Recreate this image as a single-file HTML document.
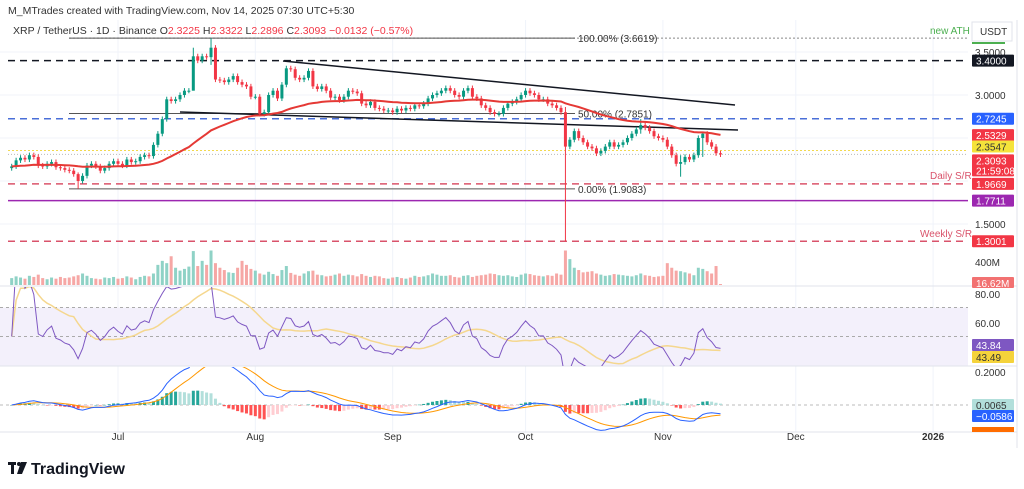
<!DOCTYPE html>
<html><head><meta charset="utf-8"><style>
html,body{margin:0;padding:0;background:#fff;}
svg{display:block;font-family:"Liberation Sans",sans-serif;}
</style></head><body>
<svg id="c" width="1024" height="489" viewBox="0 0 1024 489" xmlns="http://www.w3.org/2000/svg">
<defs>
<clipPath id="priceClip"><rect x="0" y="20" width="968" height="232"/></clipPath>
<clipPath id="rsiClip"><rect x="0" y="287" width="968" height="79"/></clipPath>
<clipPath id="macdClip"><rect x="0" y="367" width="968" height="65"/></clipPath>
</defs>
<rect x="0" y="0" width="1024" height="489" fill="#fff"/>
<text x="8" y="14" font-size="10.5" fill="#333">M_MTrades created with TradingView.com, Nov 14, 2025 07:30 UTC+5:30</text>
<g id="grid"></g>
<g id="levels"></g>
<g id="volume"></g>
<g id="candles" clip-path="url(#priceClip)"></g>
<g id="rsi"></g>
<g id="macd"></g>
<g id="axis"></g>
<text x="13" y="34" font-size="10.5" fill="#333">XRP / TetherUS · 1D · Binance <tspan fill="#333">O</tspan><tspan fill="#f23645">2.3225</tspan> <tspan fill="#333">H</tspan><tspan fill="#f23645">2.3322</tspan> <tspan fill="#333">L</tspan><tspan fill="#f23645">2.2896</tspan> <tspan fill="#333">C</tspan><tspan fill="#f23645">2.3093</tspan> <tspan fill="#f23645">−0.0132 (−0.57%)</tspan></text>
<g>
<rect x="8" y="462" width="8" height="3" fill="#131722"/><rect x="11" y="462" width="3" height="12" fill="#131722"/>
<circle cx="19" cy="464" r="2" fill="#131722"/><polygon points="21,462 27,462 22,474 17,474" fill="#131722"/>
<text x="31" y="474" font-size="16" font-weight="bold" fill="#131722">TradingView</text>
</g>
</svg>
<script>
// ---- data ----
const startDay = -24; // Jun 7 relative to Jul 1
const closes = [
2.17,2.24,2.27,2.25,2.3,2.28,2.18,2.17,2.2,2.22,2.16,2.15,2.13,2.12,2.08,2.0,2.06,2.18,2.2,2.17,2.12,2.15,2.2,2.23,
2.2,2.18,2.25,2.22,2.23,2.28,2.3,2.29,2.42,2.55,2.72,2.95,2.93,2.95,3.0,3.05,3.05,3.45,3.4,3.45,3.44,3.55,3.18,3.17,3.15,3.18,3.22,3.15,3.12,3.1,2.98,
2.98,2.78,2.8,3.0,3.05,2.96,3.12,3.31,3.3,3.2,3.18,3.2,3.28,3.1,3.07,3.1,3.05,2.97,2.98,2.94,2.98,3.05,3.04,3.02,2.9,2.88,2.92,2.85,2.84,2.82,2.82,
2.8,2.84,2.82,2.85,2.84,2.88,2.87,2.9,2.96,3.0,3.02,3.05,3.08,3.05,3.0,2.98,3.05,3.08,2.98,2.96,2.88,2.85,2.8,2.78,2.78,2.85,2.9,2.92,2.95,3.0,
3.05,3.02,3.0,2.95,2.95,2.9,2.88,2.85,2.8,2.4,2.48,2.58,2.5,2.45,2.4,2.38,2.32,2.35,2.4,2.45,2.4,2.42,2.45,2.5,2.55,2.6,2.65,2.62,2.58,2.52,2.5,
2.48,2.4,2.3,2.2,2.22,2.28,2.25,2.3,2.5,2.55,2.45,2.4,2.3225,2.3093];
const volumes = [
120,150,130,110,160,140,180,120,100,130,110,140,120,130,150,170,200,160,120,110,100,130,120,140,
110,120,150,130,100,140,160,150,200,350,420,380,500,300,250,280,320,590,330,420,350,600,380,300,260,220,210,300,420,350,280,
250,200,180,230,190,160,260,330,210,180,160,200,240,250,180,170,150,160,180,200,160,180,170,150,190,160,140,160,150,120,110,
130,140,120,110,130,160,140,150,170,200,180,160,160,170,140,130,160,170,140,160,170,180,200,190,170,160,170,150,140,180,
200,190,170,160,150,170,160,200,180,600,450,300,260,220,230,240,200,180,160,170,190,180,170,160,150,170,200,170,160,140,150,
160,380,300,250,240,220,200,170,300,280,240,200,330,17];
const wickIdx = [15, 41, 45, 125, 142, 151, 156];
const wickHigh = [2.1, 3.55, 3.66, 2.86, 2.72, 2.3, 2.56];
const wickLow = [1.91, 3.2, 3.35, 1.30, 2.55, 2.05, 2.28];
const monthLabels = ["Jul","Aug","Sep","Oct","Nov","Dec","2026"];
const monthDays = [0,31,62,92,123,153,184];
const priceTicks = [3.5,3.0,1.5];
const rsiTicks = [80,60];

// ---- scales ----
const X = d => 118 + d*4.43;
const PY = p => 95 - (p-3)*86;
const VY = v => 285 - v*23/400;
const RY = r => 322 - (r-60)*1.45;
const MY = m => 405 - m*165;
const NS="http://www.w3.org/2000/svg";
const svg=document.getElementById('c');
function mk(tag,attrs,parent){const e=document.createElementNS(NS,tag);for(const k in attrs)e.setAttribute(k,attrs[k]);(parent||svg).appendChild(e);return e;}
const grid=document.getElementById('grid'),levels=document.getElementById('levels'),vol=document.getElementById('volume'),
cg=document.getElementById('candles'),rg=document.getElementById('rsi'),mg=document.getElementById('macd'),ax=document.getElementById('axis');
const UP="#089981",DN="#f23645";
const opens=closes.map((c,i)=>i?closes[i-1]:c-0.02);
const highs=closes.map((c,i)=>Math.max(c,opens[i])+0.03);
const lows=closes.map((c,i)=>Math.min(c,opens[i])-0.03);
wickIdx.forEach((k,j)=>{highs[k]=wickHigh[j];lows[k]=wickLow[j];});

// grid
monthDays.forEach(d=>{const g=mk('line',{x1:X(d),x2:X(d),y1:20,y2:432,stroke:'#f0f3fa','stroke-width':1},grid);
});
[3.5,3.0,2.5,2.0,1.5].forEach(p=>{const g=mk('line',{x1:0,x2:968,y1:PY(p),y2:PY(p),stroke:'#f0f3fa'},grid);
});
[286,366,432].forEach(y=>{const l=mk('line',{x1:0,x2:1017,y1:y,y2:y,stroke:'#e0e3eb'},grid);});
const ab=mk('line',{x1:1017,x2:1017,y1:20,y2:448,stroke:'#e0e3eb'},grid);

// levels
function hl(p,color,dash,w,name,x1){const l=mk('line',{x1:x1||8,x2:968,y1:PY(p),y2:PY(p),stroke:color,'stroke-width':w,'stroke-dasharray':dash},levels);
}
hl(3.6619,'#888','2,2',1,'fib-100-line',69);
hl(3.40,'#131722','7,5',1.5,'resistance-3-40');
hl(2.7245,'#4a6fd8','7,5',1.5,'level-2-7245');
hl(2.3547,'#f2d94e','2,2',1,'level-2-3547');
hl(2.3093,'#bbb','1,2',1,'last-price-line');
hl(1.9669,'#d9536b','7,5',1.5,'daily-sr-line');
hl(1.7711,'#9c27b0','',1.5,'level-1-7711');
hl(1.3001,'#d9536b','7,5',1.5,'weekly-sr-line');
[[3.6619,575],[2.7851,575],[1.9083,575]].forEach(([p,x2],i)=>{const l=mk('line',{x1:69,x2:x2,y1:PY(p),y2:PY(p),stroke:'#555','stroke-width':1},levels);
});
[[578,'100.00% (3.6619)',3.6619],[578,'50.00% (2.7851)',2.7851],[578,'0.00% (1.9083)',1.9083]].forEach(([x,t,p])=>{
const e=mk('text',{x:x,y:PY(p)+4,'font-size':10,fill:'#333'},levels);e.textContent=t;});
const t1=mk('line',{x1:283,y1:61,x2:735,y2:105,stroke:'#131722','stroke-width':1.5},levels);
const t2=mk('line',{x1:180,y1:112,x2:738,y2:130,stroke:'#131722','stroke-width':1.5},levels);
[['new ATH',930,34,'#4caf50'],['Daily S/R',930,179,'#d9536b'],['Weekly S/R',920,237,'#d9536b']].forEach(([t,x,y,c])=>{
const e=mk('text',{x:x,y:y,'font-size':10,fill:c},levels);e.textContent=t;});

// volume
closes.forEach((c,i)=>{const x=X(i+startDay);const up=c>=opens[i];
const r=mk('rect',{x:x-1.5,y:VY(volumes[i]),width:3,height:285-VY(volumes[i]),fill:up?'#8fd2c6':'#f6a7a5'},vol);
});

// candles
closes.forEach((c,i)=>{const x=X(i+startDay),o=opens[i],up=c>=o,col=up?UP:DN;
const w=mk('line',{x1:x,x2:x,y1:PY(highs[i]),y2:PY(lows[i]),stroke:col,'stroke-width':1},cg);

const top=PY(Math.max(o,c)),h=Math.max(1,Math.abs(PY(o)-PY(c)));
const b=mk('rect',{x:x-1.5,y:top,width:3,height:h,fill:col},cg);
});
let ema=[],k=2/51;closes.forEach((c,i)=>ema.push(i?c*k+ema[i-1]*(1-k):c));
const ep=mk('path',{d:ema.map((v,i)=>(i?'L':'M')+X(i+startDay).toFixed(1)+','+PY(v).toFixed(1)).join(''),fill:'none',stroke:'#e53935','stroke-width':2},cg);


// RSI
const rb=mk('rect',{x:0,y:RY(70),width:968,height:RY(30)-RY(70),fill:'#f3f0fb'},rg);
[70,50].forEach(v=>{const l=mk('line',{x1:0,x2:968,y1:RY(v),y2:RY(v),stroke:'#aaa','stroke-dasharray':'3,3'},rg);});
let rsi=[],ag=0,al=0;
closes.forEach((c,i)=>{if(!i){rsi.push(50);return;}const ch=c-closes[i-1];const g=Math.max(ch,0),l=Math.max(-ch,0);
if(i<=14){ag+=g/14;al+=l/14;}else{ag=(ag*13+g)/14;al=(al*13+l)/14;}rsi.push(al===0?100:100-100/(1+ag/al));});
const rma=rsi.map((v,i)=>{const s=rsi.slice(Math.max(0,i-13),i+1);return s.reduce((a,b)=>a+b,0)/s.length;});
const rgc=mk('g',{'clip-path':'url(#rsiClip)'},rg);
const rp1=mk('path',{d:rma.map((v,i)=>(i?'L':'M')+X(i+startDay).toFixed(1)+','+RY(v).toFixed(1)).join(''),fill:'none',stroke:'#f5d78e','stroke-width':1.5},rgc);

const rp2=mk('path',{d:rsi.map((v,i)=>(i?'L':'M')+X(i+startDay).toFixed(1)+','+RY(v).toFixed(1)).join(''),fill:'none',stroke:'#7e57c2','stroke-width':1},rgc);


// MACD
function emaS(a,n){const q=2/(n+1);const r=[];a.forEach((v,i)=>r.push(i?v*q+r[i-1]*(1-q):v));return r;}
const e12=emaS(closes,12),e26=emaS(closes,26);const macd=e12.map((v,i)=>v-e26[i]);const sig=emaS(macd,9);
const mgc=mk('g',{'clip-path':'url(#macdClip)'},mg);
const zl=mk('line',{x1:0,x2:968,y1:MY(0),y2:MY(0),stroke:'#bbb','stroke-dasharray':'3,3'},mgc);
macd.forEach((m,i)=>{const h=m-sig[i],ph=i?macd[i-1]-sig[i-1]:0;const x=X(i+startDay);
const col=h>=0?(h>=ph?'#26a69a':'#b2dfdb'):(h<=ph?'#ff5252':'#ffcdd2');
const r=mk('rect',{x:x-1.5,y:Math.min(MY(h),MY(0)),width:3,height:Math.max(0.5,Math.abs(MY(h)-MY(0))),fill:col},mgc);
});
const mp1=mk('path',{d:sig.map((v,i)=>(i?'L':'M')+X(i+startDay).toFixed(1)+','+MY(v).toFixed(1)).join(''),fill:'none',stroke:'#ff9800','stroke-width':1},mgc);

const mp2=mk('path',{d:macd.map((v,i)=>(i?'L':'M')+X(i+startDay).toFixed(1)+','+MY(v).toFixed(1)).join(''),fill:'none',stroke:'#2962ff','stroke-width':1},mgc);


// axes text
monthLabels.forEach((t,i)=>{const e=mk('text',{x:X(monthDays[i]),y:440,'font-size':10,fill:'#333','text-anchor':'middle','font-weight':t==='2026'?'bold':'normal'},ax);
e.textContent=t;});
priceTicks.forEach(p=>{const e=mk('text',{x:975,y:PY(p)+4,'font-size':10,fill:'#333'},ax);e.textContent=p.toFixed(4);});
rsiTicks.forEach(v=>{const e=mk('text',{x:975,y:RY(v)+5,'font-size':10,fill:'#333'},ax);e.textContent=v.toFixed(2);});
[['400M',975,266],['0.2000',975,376]].forEach(([t,x,y])=>{const e=mk('text',{x:x,y:y,'font-size':10,fill:'#333'},ax);e.textContent=t;});
function tag(txt,y,bg,fg,h,name){const r=mk('rect',{x:972,y:y-6,width:42,height:h||12,fill:bg,rx:1},ax);
const e=mk('text',{x:976,y:y+4,'font-size':10,fill:fg},ax);e.textContent=txt;}
const ub=mk('rect',{x:972,y:22,width:40,height:19,fill:'#fff',stroke:'#e0e3eb'},ax);
const ut=mk('text',{x:980,y:35,'font-size':10,fill:'#333'},ax);ut.textContent='USDT';
const gl=mk('line',{x1:972,x2:1005,y1:43,y2:43,stroke:'#4caf50','stroke-width':2},ax);
tag('3.4000',PY(3.4),'#131722','#fff',12,'tag-3-4000');
tag('2.7245',PY(2.7245),'#2962ff','#fff',12,'tag-2-7245');
tag('2.5329',PY(2.5329),'#f23645','#fff',12,'tag-ema');
tag('2.3547',PY(2.3547)-4,'#f5e33b','#333',12,'tag-2-3547');
tag('2.3093',PY(2.3093)+6,'#f23645','#fff',22,'tag-last-price');
const cd=mk('text',{x:976,y:PY(2.3093)+20,'font-size':10,fill:'#fff'},ax);cd.textContent='21:59:08';
tag('1.9669',PY(1.9669),'#f23645','#fff',12,'tag-daily-sr');
tag('1.7711',PY(1.7711),'#9c27b0','#fff',12,'tag-1-7711');
tag('1.3001',PY(1.3001),'#f23645','#fff',12,'tag-weekly-sr');
tag('16.62M',283,'#f27171','#fff',11,'tag-volume');
tag('43.84',345,'#7e57c2','#fff',12,'tag-rsi');
tag('43.49',357,'#f5d33b','#333',12,'tag-rsi-ma');
tag('0.0065',405,'#b2dfdb','#333',12,'tag-macd-hist');
tag('−0.0586',416,'#2962ff','#fff',12,'tag-macd');
const ot=mk('rect',{x:972,y:427,width:42,height:5,fill:'#ff6d00'},ax);
</script>
</body></html>
